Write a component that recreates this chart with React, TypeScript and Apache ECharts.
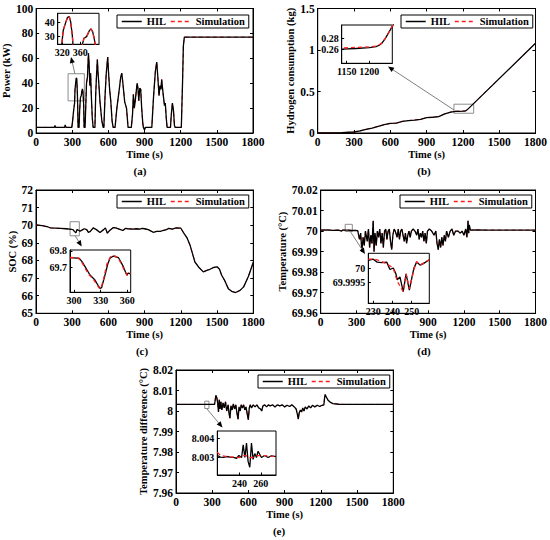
import React, { useEffect, useRef } from "react";
import * as echarts from "echarts";

const FONT = "'Liberation Serif', 'Times New Roman', serif";
const RED = "#ff1e1e";

// ---------- data (time s, value) ----------
const powerHil: [number, number][] = [
  [0, 4.5], [150, 4.5], [156, 6], [162, 4.5], [236, 4.5], [241, 6.5], [247, 4.5], [296, 4.5],
  [303, 10], [311, 18], [318.9, 24], [322.4, 34.5], [328.4, 40.6], [332, 43.7], [335.8, 44.2],
  [338.8, 40.6], [342.5, 31], [345, 20], [348, 4.5], [356, 4.5], [361, 18], [364.7, 24],
  [368.4, 28.7], [374.4, 29.9], [380.2, 34], [384, 35.4], [387.8, 33.5], [391.3, 28.7],
  [394.6, 22], [398, 4.5], [406, 4.5], [412, 22], [418, 40], [426, 45], [434, 64], [440, 55],
  [446, 38], [452, 48], [458, 30], [466, 12], [473, 4.5], [488, 4.5], [494, 30], [500, 44],
  [508, 59], [514, 48], [520, 40], [530, 25], [545, 10], [556, 4.5], [562, 4.5], [572, 30],
  [582, 48], [594, 61], [600, 50], [610, 35], [620, 25], [630, 10], [639, 4.5], [655, 4.5],
  [670, 20], [690, 35], [702, 45], [711, 48], [720, 40], [735, 25], [750, 20], [763, 4.5],
  [790, 4.5], [800, 15], [807, 31], [815, 20], [825, 28], [838, 40], [845, 36], [852, 26],
  [860, 36], [868, 35], [876, 20], [885, 8], [890, 4.5], [900, 2.5], [906, 4.5], [960, 4.5],
  [975, 30], [990, 50], [1001, 57], [1010, 45], [1020, 30], [1028, 38], [1036, 35], [1042, 43],
  [1050, 35], [1058, 28], [1065, 22], [1072, 24], [1080, 12], [1087, 4.5], [1115, 4.5],
  [1122, 15], [1131, 24], [1140, 18], [1148, 6], [1153, 4.5], [1205, 4.5], [1215, 40],
  [1222, 70], [1230, 77], [1800, 77],
];

const hydroHil: [number, number][] = [
  [0, 0], [100, 0.002], [200, 0.005], [300, 0.012], [350, 0.025], [400, 0.045], [450, 0.06],
  [500, 0.08], [550, 0.1], [600, 0.115], [650, 0.12], [700, 0.14], [750, 0.15], [800, 0.155],
  [850, 0.165], [900, 0.185], [950, 0.19], [1000, 0.198], [1050, 0.23], [1100, 0.252],
  [1140, 0.2605], [1170, 0.2615], [1200, 0.263], [1215, 0.265], [1222, 0.2675], [1228, 0.2712],
  [1235, 0.279], [1800, 1.081],
];
const hydroSim: [number, number][] = [
  [0, 0], [100, 0.002], [200, 0.005], [300, 0.012], [350, 0.025], [400, 0.045], [450, 0.06],
  [500, 0.08], [550, 0.1], [600, 0.115], [650, 0.12], [700, 0.14], [750, 0.15], [800, 0.155],
  [850, 0.165], [900, 0.185], [950, 0.19], [1000, 0.198], [1050, 0.23], [1100, 0.253],
  [1140, 0.2625], [1170, 0.2635], [1200, 0.2645], [1215, 0.266], [1222, 0.2685], [1228, 0.2718],
  [1235, 0.2795], [1800, 1.081],
];

const socHil: [number, number][] = [
  [0, 70.02], [50, 69.98], [100, 69.9], [120, 69.85], [200, 69.82], [250, 69.8], [295, 69.76],
  [306, 69.755], [318, 69.65], [330, 69.565], [340, 69.755], [344, 69.77], [356, 69.7],
  [364, 69.66], [380, 69.72], [400, 69.8], [420, 69.75], [434, 69.59], [450, 69.65],
  [474, 69.85], [500, 69.75], [530, 69.59], [560, 69.75], [575, 69.85], [591, 69.55],
  [610, 69.7], [641, 69.87], [660, 69.85], [700, 69.75], [720, 69.7], [740, 69.82], [760, 69.8],
  [800, 69.78], [830, 69.8], [860, 69.78], [880, 69.82], [900, 69.8], [930, 69.75], [971, 69.6],
  [1000, 69.65], [1030, 69.65], [1050, 69.7], [1080, 69.75], [1100, 69.82], [1130, 69.78],
  [1160, 69.85], [1200, 69.83], [1220, 69.6], [1250, 69.3], [1276, 68.87], [1300, 68.3],
  [1317, 67.9], [1350, 67.6], [1386, 67.35], [1420, 67.45], [1441, 67.5], [1470, 67.6],
  [1500, 67.64], [1520, 67.5], [1538, 67.16], [1560, 66.9], [1593, 66.4], [1620, 66.25],
  [1654, 66.18], [1690, 66.3], [1720, 66.5], [1760, 67.1], [1800, 67.9],
];
const socInsetHil: [number, number][] = [
  [295.5, 69.759], [300, 69.758], [306, 69.755], [309, 69.735], [312.4, 69.704], [318, 69.653],
  [323.6, 69.622], [327, 69.59], [329.3, 69.571], [331, 69.575], [334.9, 69.653], [338, 69.72],
  [340.5, 69.755], [344.3, 69.769], [349.9, 69.76], [352, 69.74], [355.5, 69.704],
  [359.3, 69.653], [361, 69.665], [363.8, 69.66],
];
const socInsetSim: [number, number][] = [
  [295.5, 69.76], [305, 69.757], [310, 69.72], [316, 69.66], [322, 69.625], [328, 69.575],
  [330, 69.568], [333, 69.62], [337, 69.72], [341, 69.765], [346, 69.77], [350, 69.755],
  [356, 69.69], [360, 69.65], [363.8, 69.665],
];

const tempHil: [number, number][] = [
  [0, 70.0005], [50, 70.0006], [100, 70.0004], [150, 70.0005], [175, 70.0], [185, 70.0005],
  [230, 70.0005], [260, 70.0003], [290, 70.0004], [310, 70.0002], [325, 69.996], [335, 69.999],
  [345, 69.99], [355, 69.997], [365, 69.993], [375, 70.0], [390, 69.995], [400, 70.001],
  [410, 69.992], [420, 69.998], [430, 69.994], [440, 70.005], [447, 69.99], [455, 69.999],
  [465, 69.993], [475, 70.0], [485, 69.997], [495, 70.001], [505, 69.994], [515, 69.999],
  [525, 69.992], [535, 70.0], [545, 70.001], [555, 69.996], [565, 70.0], [575, 70.001],
  [585, 69.995], [595, 69.991], [605, 69.998], [615, 70.001], [625, 70.0], [640, 69.997],
  [650, 70.001], [660, 69.996], [670, 70.0], [680, 70.001], [690, 69.998], [700, 69.995],
  [710, 69.999], [720, 69.994], [730, 69.998], [740, 70.0], [750, 69.997], [760, 70.0],
  [775, 70.001], [790, 70.0], [805, 69.998], [815, 70.001], [825, 69.996], [835, 69.999],
  [845, 69.997], [855, 70.0], [865, 69.995], [875, 69.999], [885, 69.994], [895, 70.0],
  [910, 70.001], [930, 70.0], [950, 69.998], [965, 70.0], [975, 69.994], [985, 69.991],
  [995, 69.996], [1005, 69.992], [1015, 69.997], [1025, 69.993], [1035, 69.998], [1045, 69.995],
  [1055, 70.0], [1070, 69.997], [1085, 70.0], [1100, 70.001], [1115, 69.998], [1130, 70.0],
  [1150, 70.0], [1170, 69.999], [1185, 70.0], [1200, 69.998], [1215, 70.001], [1225, 69.997],
  [1235, 70.005], [1240, 69.999], [1245, 70.003], [1255, 70.0005], [1300, 70.0006],
  [1400, 70.0005], [1500, 70.0005], [1600, 70.0005], [1700, 70.0005], [1800, 70.0005],
];
const tempInsetHil: [number, number][] = [
  [227.4, 70.00026], [230, 70.0003], [232, 70.0002], [234.5, 70.00018], [237, 70.0002],
  [238.7, 69.99995], [240.4, 70.0], [241.8, 69.9998], [242.5, 69.9996], [243.9, 69.9997],
  [245.6, 69.9992], [247.1, 69.9998], [248.8, 69.99925], [250.2, 69.9997], [251.2, 70.0],
  [252.6, 70.0002], [254.4, 70.0001], [256.1, 70.00015], [259.2, 70.00028],
];
const tempInsetSim: [number, number][] = [
  [227.4, 70.0003], [230, 70.0003], [232, 70.00028], [235, 70.0002], [238, 70.0001],
  [240.4, 70.0], [242.5, 69.99955], [245.6, 69.9992], [247.1, 69.9998], [248.8, 69.9993],
  [251.2, 69.99995], [252.6, 70.00022], [254.4, 70.0001], [259.2, 70.00028],
];

const tempDiffHil: [number, number][] = [
  [0, 8.0032], [100, 8.0032], [200, 8.0032], [300, 8.0032], [320, 8.0033], [330, 8.0077],
  [338, 8.0065], [345, 8.004], [352, 7.9995], [358, 8.0055], [365, 8.001], [372, 8.0045],
  [380, 8.0005], [390, 8.004], [400, 8.0015], [410, 8.0045], [420, 8.0], [432, 8.003],
  [440, 7.9985], [447, 7.9965], [455, 8.0025], [465, 8.0005], [475, 8.0035], [485, 8.001],
  [495, 8.003], [505, 7.999], [514, 7.996], [522, 8.002], [532, 8.0], [540, 8.003],
  [550, 8.0015], [560, 8.003], [570, 8.0005], [580, 8.002], [590, 7.9985], [599, 7.9958],
  [607, 8.0015], [615, 8.003], [625, 8.0015], [640, 8.003], [655, 8.002], [670, 8.003],
  [685, 8.0015], [700, 8.001], [710, 8.0], [720, 8.0025], [735, 8.003], [750, 8.002],
  [765, 8.003], [780, 8.0025], [800, 8.003], [820, 8.002], [840, 8.003], [860, 8.0025],
  [880, 8.003], [900, 8.002], [920, 8.0028], [940, 8.0022], [960, 8.003], [980, 8.002],
  [995, 8.001], [1005, 7.9985], [1013, 7.996], [1020, 7.999], [1030, 8.0005], [1040, 7.9995],
  [1050, 8.0015], [1060, 8.0], [1070, 8.002], [1085, 8.001], [1100, 8.0025], [1115, 8.0015],
  [1130, 8.0028], [1150, 8.002], [1170, 8.0028], [1190, 8.0022], [1210, 8.0028], [1225, 8.003],
  [1230, 8.006], [1235, 8.008], [1245, 8.0068], [1260, 8.0052], [1280, 8.0042], [1300, 8.0036],
  [1350, 8.0033], [1400, 8.0032], [1800, 8.0032],
];
const tempDiffInsetHil: [number, number][] = [
  [219, 8.0031], [222, 8.00302], [224.6, 8.003], [228, 8.00305], [230.9, 8.00302], [234, 8.003],
  [237.2, 8.00296], [239.3, 8.0031], [241.9, 8.003], [243.4, 8.00365], [245, 8.003],
  [246.5, 8.00374], [248, 8.0028], [249.6, 8.0025], [251.2, 8.00374], [252.7, 8.0029],
  [254.3, 8.0032], [255.9, 8.003], [257.4, 8.00332], [260.6, 8.003], [263.7, 8.0031],
  [266.8, 8.003], [270, 8.00308], [274.3, 8.00304],
];
const tempDiffInsetSim: [number, number][] = [
  [219, 8.00327], [222, 8.0031], [230, 8.00303], [240, 8.003], [243, 8.0031], [246, 8.0031],
  [249, 8.003], [252, 8.003], [257, 8.0031], [263, 8.0031], [274.3, 8.00305],
];

// tick values
const timeRange = [0, 1800];
const timeStep = 300;
const powerInsetXTicks = [320, 360];
const powerInsetYTicks = [30, 40];
const hydroInsetXTicks = [1150, 1200];
const hydroInsetYTicks = [0.26, 0.28];
const socInsetXTicks = [300, 330, 360];
const socInsetYTicks = [69.7, 69.8];
const tempInsetXTicks = [230, 240, 250];
const tempInsetYTicks = [69.9995, 70];
const tempDiffInsetXTicks = [240, 260];
const tempDiffInsetYTicks = [8.003, 8.004];

// ---------- layout ----------
type Box = { left: number; top: number; width: number; height: number };
const mainGrids: Box[] = [
  { left: 36, top: 8.5, width: 217, height: 124.5 },
  { left: 317.7, top: 8.5, width: 218.3, height: 124.5 },
  { left: 36, top: 190, width: 217.3, height: 123.3 },
  { left: 320.7, top: 190, width: 215.3, height: 123.3 },
  { left: 176, top: 370, width: 217.3, height: 123 },
];
const insetGrids: Box[] = [
  { left: 57.7, top: 13.3, width: 41.3, height: 31 },
  { left: 341.7, top: 25, width: 50.6, height: 38.3 },
  { left: 70, top: 250, width: 60.7, height: 42.3 },
  { left: 368.3, top: 253.3, width: 61, height: 50 },
  { left: 217.3, top: 431, width: 58.7, height: 44 },
];
const legendPos = [
  { left: 117, top: 15 },
  { left: 401, top: 15 },
  { left: 117, top: 195 },
  { left: 400, top: 195 },
  { left: 258, top: 375 },
];
const subLabels = [
  { text: "(a)", x: 140, y: 171 },
  { text: "(b)", x: 424, y: 171 },
  { text: "(c)", x: 142, y: 351 },
  { text: "(d)", x: 424, y: 351 },
  { text: "(e)", x: 279, y: 531 },
];
const arrows = [
  [75, 74, 71, 57],
  [454, 110, 388, 66.5],
  [75, 235.5, 81.7, 246.5],
  [350, 231, 365, 254],
  [207, 409, 222.5, 427.5],
];

const fmt2 = (v: number) => String(Math.round(v * 100) / 100);

const panels = [
  {
    yName: "Power (kW)", yMin: 0, yMax: 100, yStep: 20, yGap: 20,
    hil: powerHil, sim: powerHil, rect: [[265, 47.6], [400, 25.8]],
    inX: [310, 402], inY: [24.4, 46.6], inXT: powerInsetXTicks, inYT: powerInsetYTicks,
    inHil: powerHil, inSim: powerHil,
  },
  {
    yName: "Hydrogen consumption (kg)", yMin: 0, yMax: 1.5, yStep: 0.5, yGap: 20,
    hil: hydroHil, sim: hydroSim, rect: [[1126, 0.347], [1289, 0.238]],
    inX: [1139, 1251], inY: [0.2346, 0.3043], inXT: hydroInsetXTicks, inYT: hydroInsetYTicks,
    inHil: hydroHil, inSim: hydroSim,
  },
  {
    yName: "SOC (%)", yMin: 65, yMax: 72, yStep: 1, yGap: 17,
    hil: socHil, sim: socHil, rect: [[282, 70.2], [359, 69.4]],
    inX: [295.5, 363.8], inY: [69.547, 69.806], inXT: socInsetXTicks, inYT: socInsetYTicks,
    inHil: socInsetHil, inSim: socInsetSim,
  },
  {
    yName: "Temperature (°C)", yMin: 69.96, yMax: 70.02, yStep: 0.01, yGap: 28,
    hil: tempHil, sim: tempHil, rect: [[205, 70.0033], [265, 69.9998]],
    inX: [227.4, 259.2], inY: [69.9988, 70.0005], inXT: tempInsetXTicks, inYT: tempInsetYTicks,
    inHil: tempInsetHil, inSim: tempInsetSim,
  },
  {
    yName: "Temperature difference (°C)", yMin: 7.96, yMax: 8.02, yStep: 0.01, yGap: 22,
    hil: tempDiffHil, sim: tempDiffHil, rect: [[238, 8.0048], [273, 8.0012]],
    inX: [219, 274.3], inY: [8.0021, 8.00436], inXT: tempDiffInsetXTicks, inYT: tempDiffInsetYTicks,
    inHil: tempDiffInsetHil, inSim: tempDiffInsetSim,
  },
];

const textBase = { color: "#000", fontFamily: FONT, fontWeight: "bold" as const };

function arrowEls(x1: number, y1: number, x2: number, y2: number) {
  const dx = x2 - x1, dy = y2 - y1, L = Math.hypot(dx, dy);
  const ux = dx / L, uy = dy / L, hl = 6, hw = 2.6;
  const bx = x2 - ux * hl, by = y2 - uy * hl;
  return [
    { type: "line", silent: true, z: 30, shape: { x1, y1, x2: bx, y2: by }, style: { stroke: "#808080", lineWidth: 1 } },
    {
      type: "polygon", silent: true, z: 30,
      shape: { points: [[x2, y2], [bx - uy * hw, by + ux * hw], [bx + uy * hw, by - ux * hw]] },
      style: { fill: "#000" },
    },
  ];
}

function buildOption() {
  const grid: any[] = [];
  const xAxis: any[] = [];
  const yAxis: any[] = [];
  const series: any[] = [];
  const legend: any[] = [];
  const n = panels.length;

  mainGrids.forEach((g) =>
    grid.push({ ...g, show: true, borderColor: "#000", borderWidth: 1, backgroundColor: "transparent" })
  );
  insetGrids.forEach((g) =>
    grid.push({ ...g, show: true, borderColor: "#000", borderWidth: 1, backgroundColor: "#fff", z: 5 })
  );

  const line = { show: true, onZero: false, lineStyle: { color: "#000", width: 1 } };
  const tick = { show: true, inside: true, length: 3, lineStyle: { color: "#000", width: 1 } };
  const plain = (v: number) => String(v);

  // main bottom x
  panels.forEach((p, i) => {
    xAxis.push({
      gridIndex: i, type: "value", position: "bottom", min: timeRange[0], max: timeRange[1], interval: timeStep,
      name: "Time (s)", nameLocation: "middle", nameGap: 16,
      nameTextStyle: { ...textBase, fontSize: 10.5 },
      axisLine: line, axisTick: tick, splitLine: { show: false },
      axisLabel: { ...textBase, fontSize: 11.5, margin: 3, formatter: plain },
    });
  });
  // main top x
  panels.forEach((p, i) => {
    xAxis.push({
      gridIndex: i, type: "value", position: "top", min: timeRange[0], max: timeRange[1], interval: timeStep,
      axisLine: line, axisTick: tick, splitLine: { show: false }, axisLabel: { show: false },
    });
  });
  // inset x
  panels.forEach((p, i) => {
    xAxis.push({
      gridIndex: n + i, type: "value", position: "bottom", min: p.inX[0], max: p.inX[1], z: 6,
      axisLine: line, axisTick: { ...tick, length: 2.5, customValues: p.inXT }, splitLine: { show: false },
      axisLabel: { ...textBase, fontSize: 10, margin: 3, customValues: p.inXT, formatter: plain },
    });
  });

  // main left y
  panels.forEach((p, i) => {
    yAxis.push({
      gridIndex: i, type: "value", position: "left", min: p.yMin, max: p.yMax, interval: p.yStep,
      name: p.yName, nameLocation: "middle", nameGap: p.yGap,
      nameTextStyle: { ...textBase, fontSize: 10.5 },
      axisLine: line, axisTick: tick, splitLine: { show: false },
      axisLabel: { ...textBase, fontSize: 11.5, margin: 3, formatter: fmt2 },
    });
  });
  // main right y
  panels.forEach((p, i) => {
    yAxis.push({
      gridIndex: i, type: "value", position: "right", min: p.yMin, max: p.yMax, interval: p.yStep,
      axisLine: line, axisTick: tick, splitLine: { show: false }, axisLabel: { show: false },
    });
  });
  // inset y
  panels.forEach((p, i) => {
    yAxis.push({
      gridIndex: n + i, type: "value", position: "left", min: p.inY[0], max: p.inY[1], z: 6,
      axisLine: line, axisTick: { ...tick, length: 2.5, customValues: p.inYT }, splitLine: { show: false },
      axisLabel: { ...textBase, fontSize: 10, margin: 3, customValues: p.inYT, formatter: plain },
    });
  });

  panels.forEach((p, i) => {
    series.push({
      type: "line", name: "HIL", xAxisIndex: i, yAxisIndex: i, data: p.hil, symbol: "none", silent: true, z: 3,
      lineStyle: { color: "#000", width: 1.3 }, itemStyle: { color: "#000" },
      markArea: {
        silent: true, label: { show: false },
        itemStyle: { color: "rgba(0,0,0,0)", borderColor: "#8c8c8c", borderWidth: 1 },
        data: [[{ xAxis: p.rect[0][0], yAxis: p.rect[0][1] }, { xAxis: p.rect[1][0], yAxis: p.rect[1][1] }]],
      },
    });
    series.push({
      type: "line", name: "Simulation", xAxisIndex: i, yAxisIndex: i, data: p.sim, symbol: "none", silent: true, z: 2,
      lineStyle: { color: RED, width: 1.0, type: [4, 3] }, itemStyle: { color: RED },
    });
    series.push({
      type: "line", name: "HIL", xAxisIndex: 2 * n + i, yAxisIndex: 2 * n + i, data: p.inHil, symbol: "none",
      silent: true, z: 7, lineStyle: { color: "#000", width: 1.3 }, itemStyle: { color: "#000" },
    });
    series.push({
      type: "line", name: "Simulation", xAxisIndex: 2 * n + i, yAxisIndex: 2 * n + i, data: p.inSim, symbol: "none",
      silent: true, z: 8, lineStyle: { color: RED, width: 1.3, type: [4, 3] }, itemStyle: { color: RED },
    });
    legend.push({
      data: ["HIL", "Simulation"], left: legendPos[i].left, top: legendPos[i].top, orient: "horizontal",
      padding: [1, 4, 1, 4], itemWidth: 20, itemHeight: 8, itemGap: 4,
      borderColor: "#000", borderWidth: 1, backgroundColor: "#fff", selectedMode: false,
      itemStyle: { opacity: 0 },
      lineStyle: { width: 1.5 },
      textStyle: { ...textBase, fontSize: 10.5 },
    });
  });

  const graphic: any[] = [];
  arrows.forEach((a) => graphic.push(...arrowEls(a[0], a[1], a[2], a[3])));
  subLabels.forEach((s) =>
    graphic.push({
      type: "text", x: s.x, y: s.y, silent: true, z: 30,
      style: { text: s.text, fill: "#000", fontFamily: FONT, fontWeight: "bold", fontSize: 11, align: "center", verticalAlign: "middle" },
    })
  );

  return { animation: false, backgroundColor: "#fff", grid, xAxis, yAxis, series, legend, graphic };
}

export default function App() {
  const ref = useRef<HTMLDivElement>(null);
  useEffect(() => {
    if (!ref.current) return;
    const chart = echarts.init(ref.current, null, { renderer: "svg" });
    chart.setOption(buildOption() as any);
    return () => chart.dispose();
  }, []);
  return (
    <div
      ref={ref}
      style={{ position: "fixed", left: 0, top: 0, width: 550, height: 540, background: "#fff" }}
    />
  );
}
